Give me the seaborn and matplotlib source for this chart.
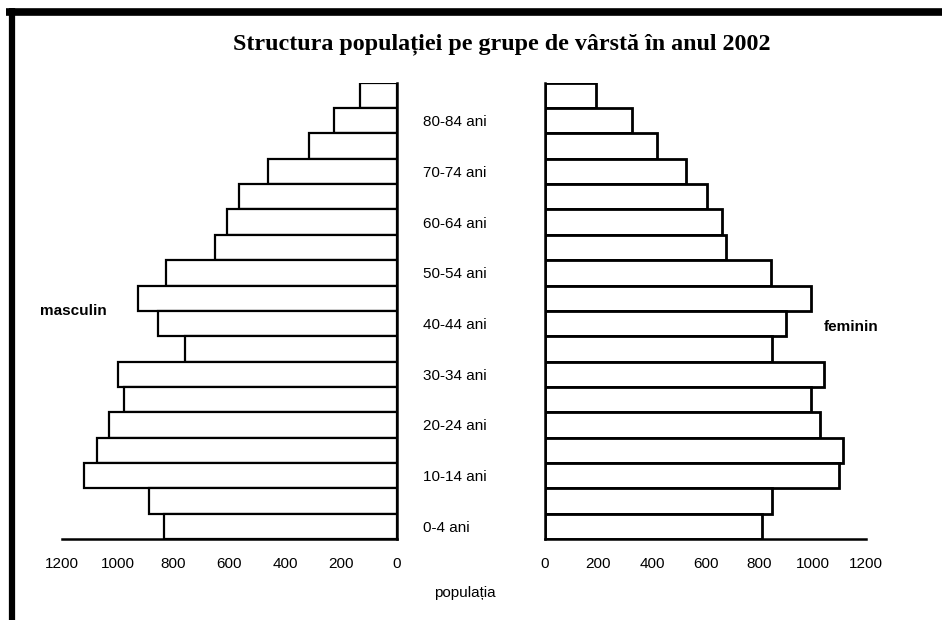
import matplotlib
matplotlib.use("Agg")
import matplotlib.pyplot as plt
import pandas as pd
import seaborn as sns
from matplotlib.lines import Line2D

# Age groups from oldest (top) to youngest (bottom)
age_groups = ["85+", "80-84", "75-79", "70-74", "65-69", "60-64", "55-59", "50-54",
              "45-49", "40-44", "35-39", "30-34", "25-29", "20-24", "15-19",
              "10-14", "5-9", "0-4"]
masculin = [130, 225, 313, 461, 564, 609, 651, 827, 926,
            857, 758, 1001, 977, 1031, 1076, 1120, 889, 833]
feminin = [191, 324, 417, 528, 604, 663, 677, 844, 994,
           902, 850, 1043, 994, 1028, 1115, 1100, 847, 812]
shown_labels = ["80-84", "70-74", "60-64", "50-54", "40-44",
                "30-34", "20-24", "10-14", "0-4"]
x_ticks = [0, 200, 400, 600, 800, 1000, 1200]

df = pd.DataFrame({"grupa": age_groups, "masculin": masculin, "feminin": feminin})

sns.set_style("white")
plt.rcParams["font.family"] = ["Liberation Sans", "DejaVu Sans"]
plt.rcParams["text.color"] = "black"
plt.rcParams["xtick.color"] = "black"
plt.rcParams["ytick.color"] = "black"
plt.rcParams["axes.labelcolor"] = "black"

fig = plt.figure(figsize=(9.42, 6.2), dpi=100)
W, H = 942.0, 620.0
bottom = 1 - 539 / H
height = (539 - 82.7) / H
ax_m = fig.add_axes([62 / W, bottom, (396.7 - 62) / W, height])
ax_f = fig.add_axes([545 / W, bottom, (866 - 545) / W, height])

sns.barplot(data=df, x="masculin", y="grupa", order=age_groups, orient="h",
            color="white", edgecolor="black", linewidth=1.6, width=1.0, ax=ax_m)
sns.barplot(data=df, x="feminin", y="grupa", order=age_groups, orient="h",
            color="white", edgecolor="black", linewidth=2.0, width=1.0, ax=ax_f)

for ax in (ax_m, ax_f):
    ax.set_xlabel("")
    ax.set_ylabel("")
    ax.set_xticks(x_ticks)
    ax.set_xticklabels([str(t) for t in x_ticks], fontsize=11)
    ax.tick_params(axis="x", direction="out", length=2, width=1, pad=11,
                   colors="black", labelcolor="black")
    ax.set_ylim(len(age_groups) - 0.5, -0.5)
    for s in ax.spines.values():
        s.set_color("black")
        s.set_linewidth(1.8)
    ax.spines["top"].set_visible(False)
    ax.set_facecolor("none")

ax_m.set_xlim(1200, 0)
ax_m.spines["left"].set_visible(False)
ax_m.yaxis.tick_right()
ax_m.set_yticks([age_groups.index(g) for g in shown_labels])
ax_m.set_yticklabels([g + " ani" for g in shown_labels], fontsize=11)
ax_m.tick_params(axis="y", length=0, pad=19, labelcolor="black")
for lab in ax_m.get_yticklabels():
    lab.set_horizontalalignment("left")

ax_f.set_xlim(0, 1200)
ax_f.spines["right"].set_visible(False)
ax_f.set_yticks([])

fig.text(502 / W, 1 - 44 / H, "Structura populației pe grupe de vârstă în anul 2002",
         ha="center", va="center", fontsize=17.3, fontweight="bold", color="black",
         family=["Liberation Serif", "DejaVu Serif"])
fig.text(40 / W, 1 - 311 / H, "masculin", ha="left", va="center",
         fontsize=11, fontweight="bold", color="black")
fig.text(851 / W, 1 - 327 / H, "feminin", ha="center", va="center",
         fontsize=11, fontweight="bold", color="black")
fig.text(465 / W, 1 - 593 / H, "populația", ha="center", va="center",
         fontsize=11, color="black")

# scanned page frame
fig.add_artist(Line2D([6 / W, 1], [1 - 11.5 / H, 1 - 11.5 / H], color="black",
                      linewidth=5.5, solid_capstyle="butt", transform=fig.transFigure))
fig.add_artist(Line2D([12 / W, 12 / W], [1 - 8 / H, 1 - 620 / H], color="black",
                      linewidth=4.5, solid_capstyle="butt", transform=fig.transFigure))

fig.savefig("out.png", dpi=100, facecolor="white")
